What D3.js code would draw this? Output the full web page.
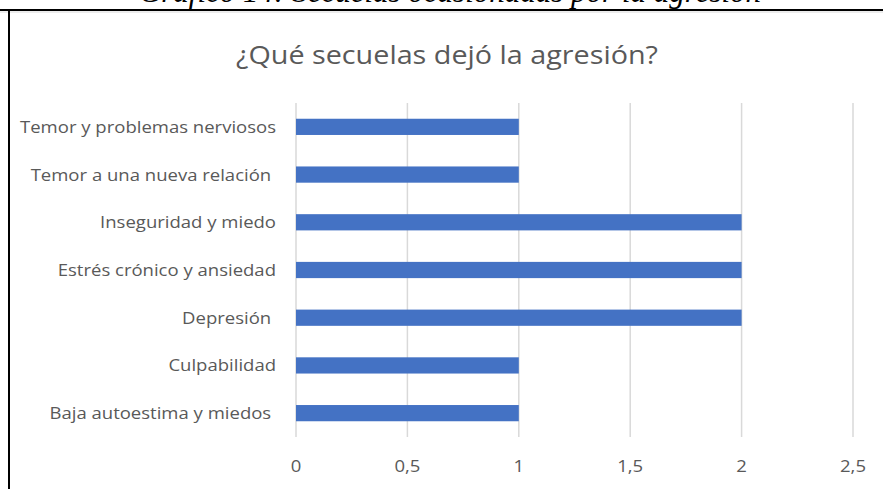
<!DOCTYPE html>
<html>
<head>
<meta charset="utf-8">
<script src="https://cdn.jsdelivr.net/npm/d3@7"></script>
<style>
  body { margin: 0; background: #fff; }
  svg { display: block; }
  .label { font-family: "Open Sans", sans-serif; font-size: 17px; fill: #595959; white-space: pre; }
  .title { font-family: "Open Sans", sans-serif; font-size: 25px; fill: #595959; }
  .caption { font-family: "Liberation Serif", serif; font-style: italic; font-size: 31px; fill: #000; }
  .grid line { stroke: #d9d9d9; stroke-width: 1.5; }
</style>
</head>
<body>
<div id="myChart"></div>
<script>
// categories top to bottom, as in the chart
var categories = [
  "Temor y problemas nerviosos",
  "Temor a una nueva relación ",
  "Inseguridad y miedo",
  "Estrés crónico y ansiedad",
  "Depresión ",
  "Culpabilidad",
  "Baja autoestima y miedos "
];
var values = [1, 1, 2, 2, 2, 1, 1];
var tickValues = [0, 0.5, 1, 1.5, 2, 2.5];

var W = 883, H = 489;
var margin = {top: 103, right: 30, bottom: 52, left: 296},
    width = 853 - margin.left,
    height = H - margin.top - margin.bottom;

// the original picture is a bit stretched sideways
var stretch = 1.09;

var svg = d3.select("#myChart").append("svg")
    .attr("width", W)
    .attr("height", H);

// caption of the document, mostly cut off at the top
svg.append("text")
    .attr("class", "caption")
    .attr("x", 450)
    .attr("y", 2)
    .style("text-anchor", "middle")
    .text("Gráfico 14: Secuelas ocasionadas por la agresión");

// frame of the chart (only top and left visible)
svg.append("rect")
    .attr("x", 0).attr("y", 11)
    .attr("width", W).attr("height", 2)
    .attr("fill", "#ececec");
svg.append("rect")
    .attr("x", 0).attr("y", 9)
    .attr("width", W).attr("height", 2)
    .attr("fill", "#000");
svg.append("rect")
    .attr("x", 8).attr("y", 9)
    .attr("width", 2).attr("height", H - 9)
    .attr("fill", "#000");

svg.append("g")
    .attr("transform", "translate(447,64) scale(1.15,1)")
    .append("text")
    .attr("class", "title")
    .style("text-anchor", "middle")
    .text("¿Qué secuelas dejó la agresión?");

var g = svg.append("g")
    .attr("transform", "translate(" + margin.left + "," + margin.top + ")");

var x = d3.scaleLinear()
    .domain([0, 2.5])
    .range([0, width]);

var y = d3.scaleBand()
    .domain(categories)
    .range([0, height])
    .paddingInner(0.66)
    .paddingOuter(0.33);

var fmt = function(d) { return String(d).replace(".", ","); };

// vertical gridlines
g.append("g")
    .attr("class", "grid")
    .selectAll("line")
    .data(tickValues)
    .enter().append("line")
    .attr("x1", function(d) { return x(d); })
    .attr("x2", function(d) { return x(d); })
    .attr("y1", 0)
    .attr("y2", height);

// x tick labels
g.append("g")
    .selectAll("g")
    .data(tickValues)
    .enter().append("g")
    .attr("transform", function(d) { return "translate(" + x(d) + "," + (height + 35) + ") scale(" + stretch + ",1)"; })
    .append("text")
    .attr("class", "label")
    .style("text-anchor", "middle")
    .text(fmt);

// category labels
g.append("g")
    .selectAll("g")
    .data(categories)
    .enter().append("g")
    .attr("transform", function(d) { return "translate(-20," + (y(d) + y.bandwidth() / 2) + ") scale(" + stretch + ",1)"; })
    .append("text")
    .attr("class", "label")
    .attr("dy", "0.35em")
    .style("text-anchor", "end")
    .text(function(d) { return d; });

// bars
g.append("g")
    .selectAll("rect")
    .data(values)
    .enter().append("rect")
    .attr("x", x(0))
    .attr("y", function(d, i) { return y(categories[i]); })
    .attr("width", function(d) { return x(d) - x(0); })
    .attr("height", y.bandwidth())
    .attr("fill", "#4472c4");
</script>
</body>
</html>
